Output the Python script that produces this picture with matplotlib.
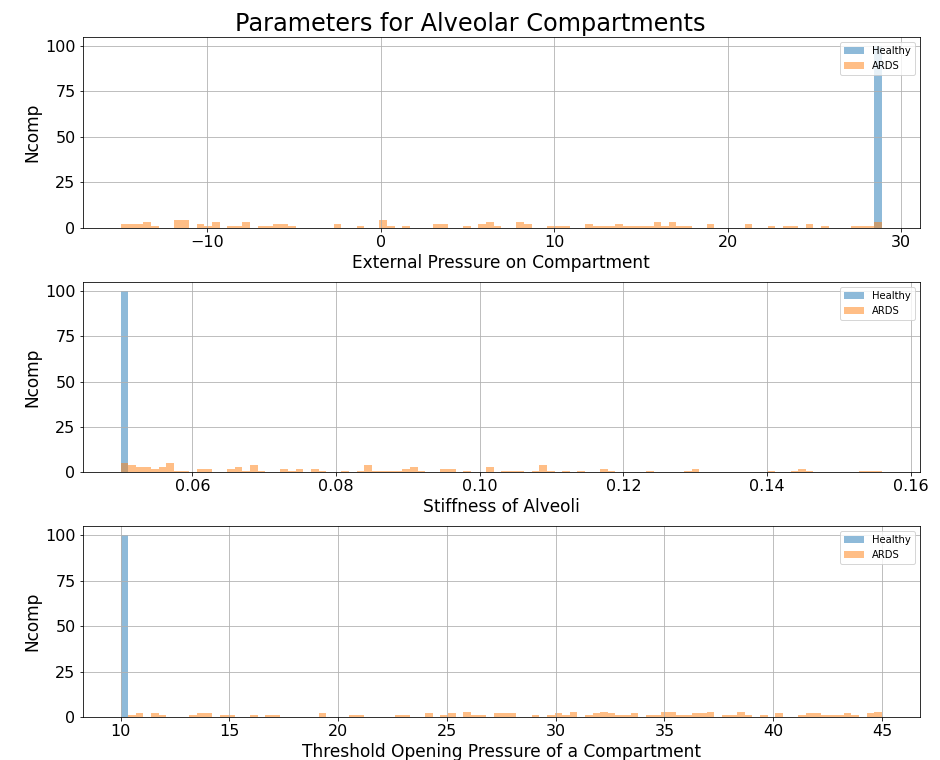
#!/usr/bin/env python3
"""Histograms of alveolar compartment parameters, healthy vs ARDS lung."""

import matplotlib

matplotlib.use("Agg")
import matplotlib.pyplot as plt
import numpy as np

# bin counts (100 bins per panel, shared by both groups)
n_bins = 100

pext_range = (-15.0, 28.9)
pext_healthy = 28.9
pext_ards = [
    2, 2, 2, 3, 1, 0, 0, 4, 4, 0,
    2, 1, 3, 0, 1, 1, 3, 0, 1, 1,
    2, 2, 1, 0, 0, 0, 0, 0, 2, 0,
    0, 1, 0, 0, 4, 1, 0, 1, 0, 0,
    0, 2, 2, 0, 0, 1, 0, 2, 3, 1,
    0, 0, 3, 2, 0, 0, 1, 1, 1, 0,
    0, 2, 1, 1, 1, 2, 1, 1, 1, 1,
    3, 1, 3, 1, 1, 0, 0, 2, 0, 0,
    0, 0, 2, 0, 0, 1, 0, 1, 1, 0,
    2, 0, 1, 0, 0, 0, 1, 1, 1, 3,
]

stiff_range = (0.05, 0.156)
stiff_healthy = 0.05
stiff_ards = [
    5, 4, 3, 3, 2, 3, 5, 1, 1, 0,
    2, 2, 0, 0, 2, 3, 1, 4, 1, 0,
    0, 2, 1, 2, 0, 2, 1, 0, 0, 1,
    0, 1, 4, 1, 1, 1, 1, 2, 3, 1,
    0, 0, 2, 2, 0, 1, 0, 0, 3, 0,
    1, 1, 1, 0, 1, 4, 1, 0, 1, 0,
    1, 0, 0, 2, 1, 0, 0, 0, 0, 1,
    0, 0, 0, 0, 1, 2, 0, 0, 0, 0,
    0, 0, 0, 0, 0, 1, 0, 0, 1, 2,
    1, 0, 0, 0, 0, 0, 0, 1, 1, 1,
]

topen_range = (10.0, 45.0)
topen_healthy = 10.0
topen_ards = [
    0, 1, 2, 0, 2, 1, 0, 0, 0, 1,
    2, 2, 0, 1, 1, 0, 0, 1, 0, 1,
    1, 0, 0, 0, 0, 0, 2, 0, 0, 0,
    1, 1, 0, 0, 0, 0, 1, 1, 0, 0,
    2, 0, 1, 2, 0, 3, 1, 1, 0, 2,
    2, 2, 0, 0, 1, 0, 1, 2, 1, 3,
    0, 1, 2, 3, 2, 1, 1, 2, 0, 1,
    1, 3, 3, 1, 1, 2, 2, 3, 0, 1,
    1, 3, 1, 0, 1, 0, 2, 0, 0, 1,
    2, 2, 1, 1, 1, 2, 1, 0, 2, 3,
]

n_comp = 100

panels = [
    ("External Pressure on Compartment", pext_range, pext_healthy, pext_ards),
    ("Stiffness of Alveoli", stiff_range, stiff_healthy, stiff_ards),
    ("Threshold Opening Pressure of a Compartment", topen_range, topen_healthy, topen_ards),
]

fig, axes = plt.subplots(3, 1, figsize=(940 / 72, 760 / 72), dpi=72)
fig.subplots_adjust(left=0.0878, right=0.9787, top=0.9513, bottom=0.0566, hspace=0.283)

for ax, (label, (lo, hi), healthy, ards) in zip(axes, panels):
    edges = np.linspace(lo, hi, n_bins + 1)
    centers = 0.5 * (edges[:-1] + edges[1:])
    ax.hist([healthy], bins=edges, weights=[n_comp], alpha=0.5, label="Healthy")
    ax.hist(centers, bins=edges, weights=ards, alpha=0.5, label="ARDS")
    ax.set_xlabel(label, fontsize=17)
    ax.set_ylabel("Ncomp", fontsize=17)
    ax.set_yticks([0, 25, 50, 75, 100])
    ax.tick_params(labelsize=16)
    ax.grid(True)
    ax.legend(loc="upper right", fontsize=10)

fig.suptitle("Parameters for Alveolar Compartments", fontsize=24, y=0.984)
fig.savefig("out.png", dpi=72)
